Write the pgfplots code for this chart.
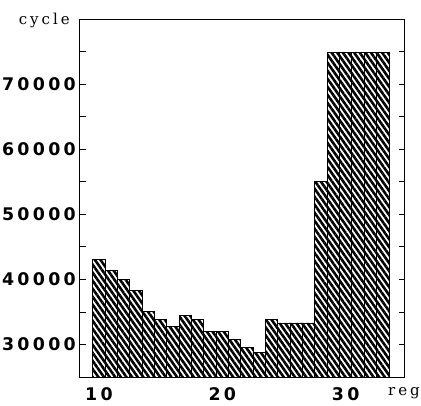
\documentclass[border=0pt]{standalone}
\usepackage{fontspec}
\usepackage{pgfplots}
\pgfplotsset{compat=1.18}
\usetikzlibrary{patterns.meta}
\newfontfamily\tickfont[LetterSpace=19]{DejaVu Sans}
\newfontfamily\labfont[LetterSpace=20]{DejaVu Serif}
\begin{document}
\begin{tikzpicture}
\useasboundingbox (-80pt,-28pt) rectangle (341pt,377pt);
\begin{axis}[
  at={(0pt,0pt)}, anchor=south west,
  scale only axis, width=325pt, height=358pt,
  xmin=8.47, xmax=34.8, ymin=25000, ymax=80000,
  xtick={10,20,30},
  ytick={30000,40000,50000,60000,70000},
  minor ytick={35000,45000,55000,65000,75000},
  scaled ticks=false,
  ytick pos=both,
  x tick style={draw=none},
  y tick style={line width=0.8pt, black},
  major tick length=6pt, minor tick length=6pt,
  axis line style={line width=1pt},
  /pgf/number format/1000 sep={},
  /pgf/number format/assume math mode=true,
  tick label style={font=\tickfont\bfseries\fontsize{17.4}{20}\selectfont, inner sep=0pt},
  xticklabel style={anchor=base, yshift=-23pt},
  yticklabel style={anchor=east, xshift=-4pt},
  clip=false,
]
\addplot[ybar, bar width=1, draw=black, line width=0.9pt,
  pattern={Lines[angle=-55,distance=4.6pt,line width=2.6pt]}, pattern color=black]
coordinates {
(10,43000) (11,41300) (12,40000) (13,38300) (14,35100) (15,33900)
(16,32700) (17,34500) (18,33900) (19,32000) (20,32000) (21,30700)
(22,29500) (23,28800) (24,33900) (25,33300) (26,33300) (27,33300)
(28,55100) (29,74900) (30,74900) (31,74900) (32,74900) (33,74900)
};
\node[anchor=base east, inner sep=0pt, xshift=-10pt, yshift=-5pt,
  font=\labfont\fontsize{15}{18}\selectfont]
  at (rel axis cs:0,1) {cycle};
\node[anchor=base west, inner sep=0pt, xshift=-17pt, yshift=-18pt,
  font=\labfont\fontsize{15}{18}\selectfont]
  at (rel axis cs:1,0) {reg};
\end{axis}
\end{tikzpicture}
\end{document}
